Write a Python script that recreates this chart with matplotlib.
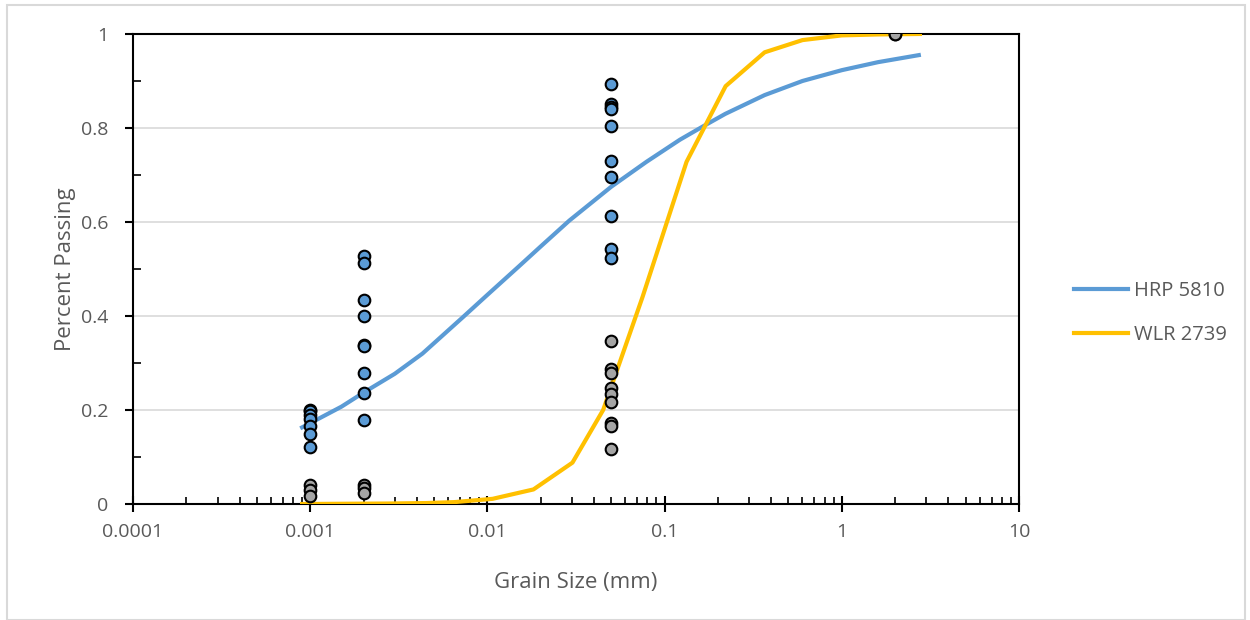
import matplotlib
matplotlib.use('Agg')
import matplotlib.pyplot as plt
import numpy as np
from matplotlib import rcParams
from matplotlib.patches import Rectangle
from matplotlib.ticker import LogLocator, FixedLocator, NullFormatter

rcParams['font.family'] = ['Open Sans', 'DejaVu Sans']
rcParams['font.size'] = 14

### curves ###
hrp_size = [0.0009, 0.001, 0.0015, 0.002, 0.003, 0.0043, 0.0073, 0.01, 0.015, 0.02,
            0.029, 0.05, 0.079, 0.122, 0.164, 0.22, 0.367, 0.6, 1.0, 1.6, 2.72]
hrp_pass = [0.163, 0.172, 0.207, 0.237, 0.277, 0.32, 0.398, 0.445, 0.505, 0.548,
            0.603, 0.675, 0.728, 0.775, 0.803, 0.83, 0.870, 0.90, 0.923, 0.94, 0.955]

wlr_size = [0.0009, 0.0015, 0.0027, 0.0045, 0.0065, 0.0107, 0.0182, 0.0302, 0.045,
            0.075, 0.133, 0.221, 0.367, 0.6, 1.0, 1.6, 2.76]
wlr_pass = [0.0, 0.0005, 0.001, 0.002, 0.004, 0.011, 0.031, 0.088, 0.2,
            0.44, 0.728, 0.889, 0.961, 0.987, 0.997, 0.999, 1.0]

### measured points ###
blue_x = [0.001]*7 + [0.002]*9 + [0.05]*10 + [2]
blue_y = [0.2, 0.198, 0.19, 0.18, 0.167, 0.148, 0.122,
          0.528, 0.512, 0.435, 0.399, 0.338, 0.336, 0.278, 0.237, 0.179,
          0.893, 0.852, 0.845, 0.840, 0.804, 0.730, 0.696, 0.613, 0.543, 0.524,
          1.0]
gray_x = [0.001]*3 + [0.002]*3 + [0.05]*9 + [2]
gray_y = [0.040, 0.030, 0.018,
          0.040, 0.034, 0.023,
          0.347, 0.287, 0.278, 0.246, 0.235, 0.218, 0.172, 0.166, 0.117,
          1.0]

x_ticks = [0.0001, 0.001, 0.01, 0.1, 1, 10]
x_labels = ['0.0001', '0.001', '0.01', '0.1', '1', '10']
y_ticks = [0, 0.2, 0.4, 0.6, 0.8, 1]
y_labels = ['0', '0.2', '0.4', '0.6', '0.8', '1']

blue = '#5B9BD5'
gold = '#FFC000'
grey = '#A5A5A5'
txt = '#595959'

fig = plt.figure(figsize=(12.5, 6.2), dpi=100)
fig.patches.append(Rectangle((0.0056, 0.0), 0.99, 0.992, transform=fig.transFigure,
                             fill=False, edgecolor='#d9d9d9', lw=1.5))
ax = fig.add_axes([0.1064, 0.1871, 0.7088, 0.7581])

ax.plot(hrp_size, hrp_pass, color=blue, lw=3, label='HRP 5810', zorder=3)
ax.plot(wlr_size, wlr_pass, color=gold, lw=3, label='WLR 2739', zorder=3)
ax.scatter(blue_x, blue_y, s=70, color=blue, edgecolor='black', lw=1.5, zorder=4)
ax.scatter(gray_x, gray_y, s=70, color=grey, edgecolor='black', lw=1.5, zorder=5)

ax.set_xscale('log')
ax.set_xlim(0.0001, 10)
ax.set_ylim(0, 1)
ax.set_xticks(x_ticks)
ax.set_xticklabels(x_labels, color=txt, fontsize=14)
ax.set_yticks(y_ticks)
ax.set_yticklabels(y_labels, color=txt, fontsize=14)
ax.xaxis.set_minor_locator(LogLocator(base=10, subs=np.arange(2, 10)))
ax.xaxis.set_minor_formatter(NullFormatter())
ax.yaxis.set_minor_locator(FixedLocator([0.1, 0.3, 0.5, 0.7, 0.9]))
ax.tick_params(axis='x', which='major', direction='inout', length=12, width=1.5, pad=8)
ax.tick_params(axis='x', which='minor', direction='in', length=5, width=1.2)
ax.tick_params(axis='y', which='major', direction='out', length=6, width=1.5, pad=12)
ax.tick_params(axis='y', which='minor', direction='in', length=6, width=1.2)
ax.grid(axis='y', which='major', color='#d9d9d9', lw=1.2)
ax.set_axisbelow(True)
for s in ax.spines.values():
    s.set_color('black')
    s.set_linewidth(1.5)

ax.set_xlabel('Grain Size (mm)', color=txt, fontsize=16, labelpad=22)
ax.set_ylabel('Percent Passing', color=txt, fontsize=16, labelpad=3)

fig.legend(loc='center left', bbox_to_anchor=(0.845, 0.495), frameon=False,
           fontsize=14.5, labelcolor=txt, handlelength=2.65, handletextpad=0.3,
           labelspacing=1.2)

plt.savefig('out.png', dpi=100)
